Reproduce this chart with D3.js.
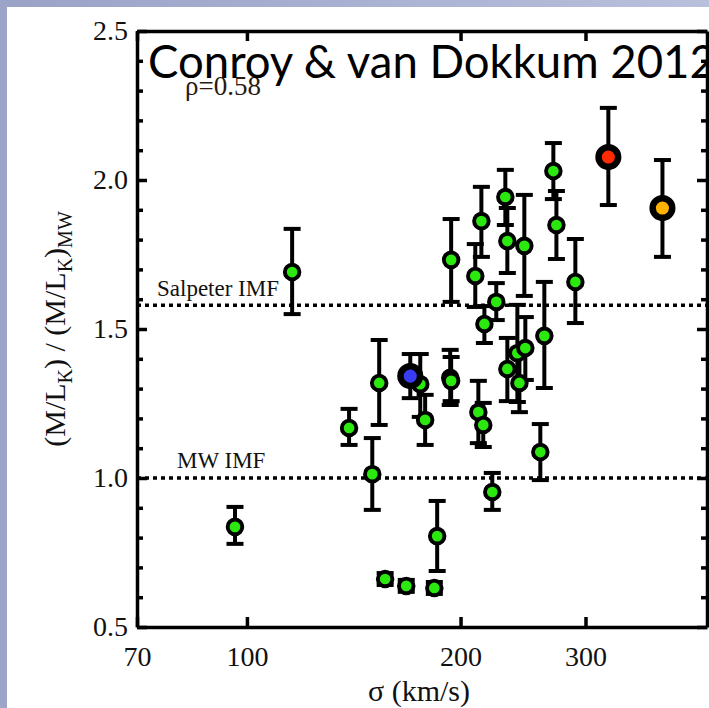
<!DOCTYPE html>
<html>
<head>
<meta charset="utf-8">
<script src="https://cdn.jsdelivr.net/npm/d3@7"></script>
<style>
  html, body { margin: 0; padding: 0; background: #fff; overflow: hidden; }
  svg { display: block; }
</style>
</head>
<body>
<svg id="chart" width="709" height="708"></svg>
<script>
/* M/L_K ratio vs velocity dispersion — Conroy & van Dokkum 2012 */

// green galaxies: sigma (km/s), (M/L_K)/(M/L_K)_MW, lower and upper end of the error bar
var sigma = [96.2, 115.8, 139.3, 153.6, 150.2, 175.5, 178.3, 193.4, 194.0, 194.0,
  214.0, 209.8, 231.3, 232.8, 246.0, 270.3, 273.0, 224.6, 216.1, 290.3,
  262.5, 232.8, 240.5, 246.8, 242.1, 211.9, 215.3, 185.4, 221.7, 259.1,
  156.6, 167.7, 183.7];
var ml = [0.836, 1.691, 1.168, 1.319, 1.013, 1.315, 1.195, 1.336, 1.326, 1.732,
  1.862, 1.678, 1.943, 1.795, 1.779, 2.030, 1.849, 1.591, 1.517, 1.658,
  1.477, 1.366, 1.419, 1.436, 1.319, 1.221, 1.178, 0.805, 0.953, 1.087,
  0.661, 0.638, 0.631];
var mlLo = [0.779, 1.550, 1.111, 1.178, 0.893, 1.205, 1.111, 1.245, 1.258, 1.591,
  1.742, 1.574, 1.849, 1.688, 1.611, 1.936, 1.735, 1.530, 1.453, 1.520,
  1.302, 1.258, 1.255, 1.329, 1.221, 1.117, 1.104, 0.688, 0.893, 0.993,
  0.641, 0.618, 0.611];
var mlHi = [0.903, 1.836, 1.232, 1.463, 1.134, 1.416, 1.279, 1.430, 1.406, 1.869,
  1.977, 1.785, 2.034, 1.906, 1.950, 2.124, 1.963, 1.654, 1.577, 1.802,
  1.658, 1.470, 1.581, 1.540, 1.413, 1.326, 1.252, 0.923, 1.017, 1.181,
  0.681, 0.658, 0.651];

// the three highlighted galaxies (blue, red, orange)
var hiSigma = [169.9, 323.1, 385.1];
var hiMl = [1.342, 2.077, 1.906];
var hiLo = [1.268, 1.916, 1.742];
var hiHi = [1.416, 2.242, 2.067];

// reference IMF lines
var imfNames = ['Salpeter IMF', 'MW IMF'];
var imfValues = [1.58, 1.0];

var xTicks = [70, 100, 200, 300];
var yTicks = [0.5, 1.0, 1.5, 2.0, 2.5];

var HI_FILL = ['#3a3cf4', '#ff2a00', '#ffb300'];
var GREEN = '#2be80f';
var SERIF = '"Liberation Serif", "DejaVu Serif", serif';

var svg = d3.select('#chart');

// slide background strips
var defs = svg.append('defs');
var grad = defs.append('linearGradient').attr('id', 'topstrip').attr('x1', 0).attr('x2', 1);
grad.append('stop').attr('offset', 0).attr('stop-color', '#9aa2c7');
grad.append('stop').attr('offset', 1).attr('stop-color', '#b9c0dc');
svg.append('rect').attr('x', 0).attr('y', 0).attr('width', 709).attr('height', 7).attr('fill', 'url(#topstrip)');
svg.append('rect').attr('x', 0).attr('y', 0).attr('width', 7).attr('height', 708).attr('fill', '#9ca4c8');

var L = 137, R = 707, T = 31, B = 627;
var x = d3.scaleLog().domain([70, 445]).range([L, R]);
var y = d3.scaleLinear().domain([0.5, 2.5]).range([B, T]);

var minorY = d3.range(6, 25).map(function (d) { return d / 10; }).filter(function (d) { return Math.round(d * 10) % 5 !== 0; });

function styleAxis(g) {
  g.selectAll('.domain').attr('stroke', '#000').attr('stroke-width', 3.5);
  g.selectAll('.tick line').attr('stroke', '#000').attr('stroke-width', 3.5);
  g.selectAll('text').attr('font-family', SERIF).attr('font-size', 28).attr('fill', '#111');
}

// reference lines
imfValues.forEach(function (v) {
  svg.append('line').attr('x1', L).attr('x2', R).attr('y1', y(v)).attr('y2', y(v))
    .attr('stroke', '#000').attr('stroke-width', 3.5).attr('stroke-dasharray', '4,4');
});
svg.append('text').attr('x', 157).attr('y', y(imfValues[0]) - 9).attr('font-family', SERIF).attr('font-size', 23).attr('fill', '#111').text(imfNames[0]);
svg.append('text').attr('x', 177).attr('y', y(imfValues[1]) - 10).attr('font-family', SERIF).attr('font-size', 23).attr('fill', '#111').text(imfNames[1]);

// axes
var gB = svg.append('g').attr('transform', 'translate(0,' + B + ')')
  .call(d3.axisBottom(x).tickValues(xTicks).tickFormat(d3.format('d')).tickSizeInner(-10).tickSizeOuter(0).tickPadding(14));
var gT = svg.append('g').attr('transform', 'translate(0,' + T + ')')
  .call(d3.axisTop(x).tickValues(xTicks).tickFormat('').tickSizeInner(-10).tickSizeOuter(0));
var gL = svg.append('g').attr('transform', 'translate(' + L + ',0)')
  .call(d3.axisLeft(y).tickValues(yTicks).tickFormat(d3.format('.1f')).tickSizeInner(-10).tickSizeOuter(0).tickPadding(9));
var gLm = svg.append('g').attr('transform', 'translate(' + L + ',0)')
  .call(d3.axisLeft(y).tickValues(minorY).tickFormat('').tickSizeInner(-6).tickSizeOuter(0));
var gR = svg.append('g').attr('transform', 'translate(' + R + ',0)')
  .call(d3.axisRight(y).tickValues(yTicks).tickFormat('').tickSizeInner(-10).tickSizeOuter(0));
var gRm = svg.append('g').attr('transform', 'translate(' + R + ',0)')
  .call(d3.axisRight(y).tickValues(minorY).tickFormat('').tickSizeInner(-6).tickSizeOuter(0));
[gB, gT, gL, gLm, gR, gRm].forEach(styleAxis);
gB.selectAll('text').attr('dy', '0.9em');
gLm.select('.domain').remove(); gRm.select('.domain').remove();

// axis titles
svg.append('text').attr('x', x(70) + (R - L) / 2 - 3).attr('y', 701).attr('text-anchor', 'middle')
  .attr('font-family', SERIF).attr('font-size', 30).attr('fill', '#111').text('σ (km/s)');
var yl = svg.append('text').attr('transform', 'translate(65,329) rotate(-90)').attr('text-anchor', 'middle')
  .attr('font-family', SERIF).attr('font-size', 30).attr('fill', '#111');
yl.append('tspan').text('(M/L');
yl.append('tspan').attr('font-size', 20).attr('dy', 7).text('K');
yl.append('tspan').attr('dy', -7).text(') / (M/L');
yl.append('tspan').attr('font-size', 20).attr('dy', 7).text('K');
yl.append('tspan').attr('dy', -7).text(')');
yl.append('tspan').attr('font-size', 20).attr('dy', 7).text('MW');

// error bars
var CAP = 8.5;
function errBars(g, xs, lo, hi) {
  var e = g.selectAll('g').data(d3.range(xs.length)).enter().append('g');
  e.append('line').attr('x1', function (i) { return x(xs[i]); }).attr('x2', function (i) { return x(xs[i]); })
    .attr('y1', function (i) { return y(lo[i]); }).attr('y2', function (i) { return y(hi[i]); });
  e.append('line').attr('x1', function (i) { return x(xs[i]) - CAP; }).attr('x2', function (i) { return x(xs[i]) + CAP; })
    .attr('y1', function (i) { return y(lo[i]); }).attr('y2', function (i) { return y(lo[i]); });
  e.append('line').attr('x1', function (i) { return x(xs[i]) - CAP; }).attr('x2', function (i) { return x(xs[i]) + CAP; })
    .attr('y1', function (i) { return y(hi[i]); }).attr('y2', function (i) { return y(hi[i]); });
  e.selectAll('line').attr('stroke', '#000').attr('stroke-width', 4);
}
errBars(svg.append('g'), sigma, mlLo, mlHi);
errBars(svg.append('g'), hiSigma, hiLo, hiHi);

svg.append('g').selectAll('circle').data(d3.range(sigma.length)).enter().append('circle')
  .attr('cx', function (i) { return x(sigma[i]); }).attr('cy', function (i) { return y(ml[i]); })
  .attr('r', 7.3).attr('fill', GREEN).attr('stroke', '#000').attr('stroke-width', 3.9);
svg.append('g').selectAll('circle').data(d3.range(hiSigma.length)).enter().append('circle')
  .attr('cx', function (i) { return x(hiSigma[i]); }).attr('cy', function (i) { return y(hiMl[i]); })
  .attr('r', 9.8).attr('fill', function (i) { return HI_FILL[i]; }).attr('stroke', '#000').attr('stroke-width', 6.5);

// correlation coefficient and title
svg.append('text').attr('x', 185).attr('y', 95).attr('font-family', SERIF).attr('font-size', 27).attr('fill', '#2a1a10').text('ρ=0.58');
var title = svg.append('text').attr('x', 148).attr('y', 78).attr('font-family', 'Lato, "Open Sans", sans-serif')
  .attr('font-size', 40).attr('fill', '#000').text('Conroy & van Dokkum 2012');
var w = title.node().getComputedTextLength();
title.attr('font-size', 40 * 568 / w);
</script>
</body>
</html>
